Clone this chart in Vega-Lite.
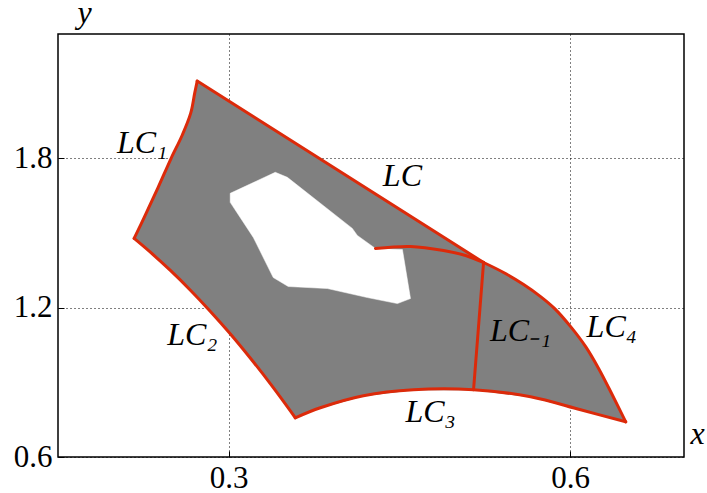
{
  "$schema": "https://vega.github.io/schema/vega-lite/v6.json",
  "width": 626,
  "height": 423,
  "autosize": "none",
  "padding": {"left": 58, "top": 34, "right": 23, "bottom": 36},
  "background": "white",
  "config": {
    "view": {"stroke": "black", "strokeWidth": 1.5},
    "axis": {
      "grid": true,
      "gridColor": "black",
      "gridOpacity": 1,
      "gridDash": [1, 3],
      "gridWidth": 1,
      "domain": false,
      "tickColor": "black",
      "tickSize": -6,
      "tickWidth": 1,
      "labelFont": "Liberation Serif",
      "labelFontSize": 31,
      "labelColor": "black",
      "labelPadding": 12,
      "titleFont": "Liberation Serif",
      "titleFontSize": 32,
      "titleFontStyle": "italic",
      "titleFontWeight": "normal",
      "titleColor": "black"
    }
  },
  "datasets": {
    "outer": [
      {"i": 1, "x": 0.2723, "y": 2.1107},
      {"i": 2, "x": 0.2701, "y": 2.0624},
      {"i": 3, "x": 0.2666, "y": 1.9818},
      {"i": 4, "x": 0.2591, "y": 1.8932},
      {"i": 5, "x": 0.2494, "y": 1.8006},
      {"i": 6, "x": 0.238, "y": 1.6838},
      {"i": 7, "x": 0.2274, "y": 1.5791},
      {"i": 8, "x": 0.2169, "y": 1.4784},
      {"i": 9, "x": 0.2309, "y": 1.424},
      {"i": 10, "x": 0.2485, "y": 1.3507},
      {"i": 11, "x": 0.2661, "y": 1.2714},
      {"i": 12, "x": 0.2837, "y": 1.186},
      {"i": 13, "x": 0.3013, "y": 1.0954},
      {"i": 14, "x": 0.3189, "y": 0.9979},
      {"i": 15, "x": 0.3365, "y": 0.8949},
      {"i": 16, "x": 0.3497, "y": 0.8135},
      {"i": 17, "x": 0.3585, "y": 0.7575},
      {"i": 18, "x": 0.3805, "y": 0.7978},
      {"i": 19, "x": 0.4183, "y": 0.8461},
      {"i": 20, "x": 0.4623, "y": 0.8703},
      {"i": 21, "x": 0.5151, "y": 0.8703},
      {"i": 22, "x": 0.5652, "y": 0.8421},
      {"i": 23, "x": 0.6092, "y": 0.7897},
      {"i": 24, "x": 0.6488, "y": 0.7414},
      {"i": 25, "x": 0.6365, "y": 0.8542},
      {"i": 26, "x": 0.6251, "y": 0.9548},
      {"i": 27, "x": 0.6136, "y": 1.0435},
      {"i": 28, "x": 0.6004, "y": 1.124},
      {"i": 29, "x": 0.5864, "y": 1.1965},
      {"i": 30, "x": 0.574, "y": 1.2448},
      {"i": 31, "x": 0.5591, "y": 1.2932},
      {"i": 32, "x": 0.5415, "y": 1.3415},
      {"i": 33, "x": 0.5239, "y": 1.3817}
    ],
    "hole": [
      {"i": 1, "x": 0.3013, "y": 1.6596},
      {"i": 2, "x": 0.3409, "y": 1.7442},
      {"i": 3, "x": 0.3515, "y": 1.7241},
      {"i": 4, "x": 0.4086, "y": 1.5187},
      {"i": 5, "x": 0.413, "y": 1.4905},
      {"i": 6, "x": 0.4289, "y": 1.4381},
      {"i": 7, "x": 0.4526, "y": 1.434},
      {"i": 8, "x": 0.4597, "y": 1.2368},
      {"i": 9, "x": 0.4482, "y": 1.2166},
      {"i": 10, "x": 0.4218, "y": 1.2408},
      {"i": 11, "x": 0.3867, "y": 1.277},
      {"i": 12, "x": 0.3523, "y": 1.2851},
      {"i": 13, "x": 0.3391, "y": 1.3213},
      {"i": 14, "x": 0.3216, "y": 1.4824},
      {"i": 15, "x": 0.3013, "y": 1.6234}
    ],
    "red": [
      {"seg": "LC1", "i": 1, "x": 0.2723, "y": 2.1107},
      {"seg": "LC1", "i": 2, "x": 0.2701, "y": 2.0624},
      {"seg": "LC1", "i": 3, "x": 0.2666, "y": 1.9818},
      {"seg": "LC1", "i": 4, "x": 0.2591, "y": 1.8932},
      {"seg": "LC1", "i": 5, "x": 0.2494, "y": 1.8006},
      {"seg": "LC1", "i": 6, "x": 0.238, "y": 1.6838},
      {"seg": "LC1", "i": 7, "x": 0.2274, "y": 1.5791},
      {"seg": "LC1", "i": 8, "x": 0.2169, "y": 1.4784},
      {"seg": "LC2", "i": 1, "x": 0.2169, "y": 1.4784},
      {"seg": "LC2", "i": 2, "x": 0.2309, "y": 1.424},
      {"seg": "LC2", "i": 3, "x": 0.2485, "y": 1.3507},
      {"seg": "LC2", "i": 4, "x": 0.2661, "y": 1.2714},
      {"seg": "LC2", "i": 5, "x": 0.2837, "y": 1.186},
      {"seg": "LC2", "i": 6, "x": 0.3013, "y": 1.0954},
      {"seg": "LC2", "i": 7, "x": 0.3189, "y": 0.9979},
      {"seg": "LC2", "i": 8, "x": 0.3365, "y": 0.8949},
      {"seg": "LC2", "i": 9, "x": 0.3497, "y": 0.8135},
      {"seg": "LC2", "i": 10, "x": 0.3585, "y": 0.7575},
      {"seg": "LC3", "i": 1, "x": 0.3585, "y": 0.7575},
      {"seg": "LC3", "i": 2, "x": 0.3805, "y": 0.7978},
      {"seg": "LC3", "i": 3, "x": 0.4183, "y": 0.8461},
      {"seg": "LC3", "i": 4, "x": 0.4623, "y": 0.8703},
      {"seg": "LC3", "i": 5, "x": 0.5151, "y": 0.8703},
      {"seg": "LC3", "i": 6, "x": 0.5652, "y": 0.8421},
      {"seg": "LC3", "i": 7, "x": 0.6092, "y": 0.7897},
      {"seg": "LC3", "i": 8, "x": 0.6488, "y": 0.7414},
      {"seg": "LC4", "i": 1, "x": 0.6488, "y": 0.7414},
      {"seg": "LC4", "i": 2, "x": 0.6365, "y": 0.8542},
      {"seg": "LC4", "i": 3, "x": 0.6251, "y": 0.9548},
      {"seg": "LC4", "i": 4, "x": 0.6136, "y": 1.0435},
      {"seg": "LC4", "i": 5, "x": 0.6004, "y": 1.124},
      {"seg": "LC4", "i": 6, "x": 0.5864, "y": 1.1965},
      {"seg": "LC4", "i": 7, "x": 0.574, "y": 1.2448},
      {"seg": "LC4", "i": 8, "x": 0.5591, "y": 1.2932},
      {"seg": "LC4", "i": 9, "x": 0.5415, "y": 1.3415},
      {"seg": "LC4", "i": 10, "x": 0.5239, "y": 1.3817},
      {"seg": "LC", "i": 1, "x": 0.5239, "y": 1.3817},
      {"seg": "LC", "i": 2, "x": 0.2723, "y": 2.1107},
      {"seg": "LCm1", "i": 1, "x": 0.5239, "y": 1.3817},
      {"seg": "LCm1", "i": 2, "x": 0.5151, "y": 0.8703},
      {"seg": "inner", "i": 1, "x": 0.4289, "y": 1.4381},
      {"seg": "inner", "i": 2, "x": 0.4597, "y": 1.4462},
      {"seg": "inner", "i": 3, "x": 0.4887, "y": 1.4301},
      {"seg": "inner", "i": 4, "x": 0.5081, "y": 1.41},
      {"seg": "inner", "i": 5, "x": 0.5239, "y": 1.3817}
    ],
    "labels": [
      {"t": "LC₁", "x": 0.2239, "y": 1.861},
      {"t": "LC", "x": 0.4526, "y": 1.7281},
      {"t": "LC₂", "x": 0.268, "y": 1.09},
      {"t": "LC₃", "x": 0.4773, "y": 0.7817},
      {"t": "LC₋₁", "x": 0.5564, "y": 1.1079},
      {"t": "LC₄", "x": 0.6365, "y": 1.124}
    ]
  },
  "encoding": {
    "x": {
      "field": "x", "type": "quantitative",
      "scale": {"domain": [0.15, 0.7], "nice": false, "zero": false},
      "axis": {"values": [0.3, 0.6], "format": ".1f", "title": "x", "titleAngle": 0, "titleX": 639, "titleY": -24, "titleAlign": "center", "titleBaseline": "middle"}
    },
    "y": {
      "field": "y", "type": "quantitative",
      "scale": {"domain": [0.6, 2.3], "nice": false, "zero": false},
      "axis": {"values": [0.6, 1.2, 1.8], "format": ".1f", "title": "y", "titleAngle": 0, "titleX": 26, "titleY": -12, "titleAlign": "center", "titleBaseline": "alphabetic"}
    }
  },
  "layer": [
    {
      "data": {"name": "outer"},
      "mark": {"type": "line", "interpolate": "linear-closed", "fill": "#808080", "stroke": "#808080", "strokeWidth": 1, "clip": true},
      "encoding": {"order": {"field": "i", "type": "quantitative"}}
    },
    {
      "data": {"name": "hole"},
      "mark": {"type": "line", "interpolate": "linear-closed", "fill": "white", "stroke": "white", "strokeWidth": 0.5, "clip": true},
      "encoding": {"order": {"field": "i", "type": "quantitative"}}
    },
    {
      "data": {"name": "red"},
      "mark": {"type": "line", "interpolate": "catmull-rom", "stroke": "#dc2a0a", "strokeWidth": 3, "strokeCap": "round", "strokeJoin": "round", "clip": true},
      "encoding": {
        "detail": {"field": "seg", "type": "nominal"},
        "order": {"field": "i", "type": "quantitative"}
      }
    },
    {
      "data": {"name": "labels"},
      "mark": {"type": "text", "font": "Liberation Serif", "fontSize": 32, "fontStyle": "italic", "color": "black", "align": "center", "baseline": "middle"},
      "encoding": {"text": {"field": "t", "type": "nominal"}}
    }
  ]
}
